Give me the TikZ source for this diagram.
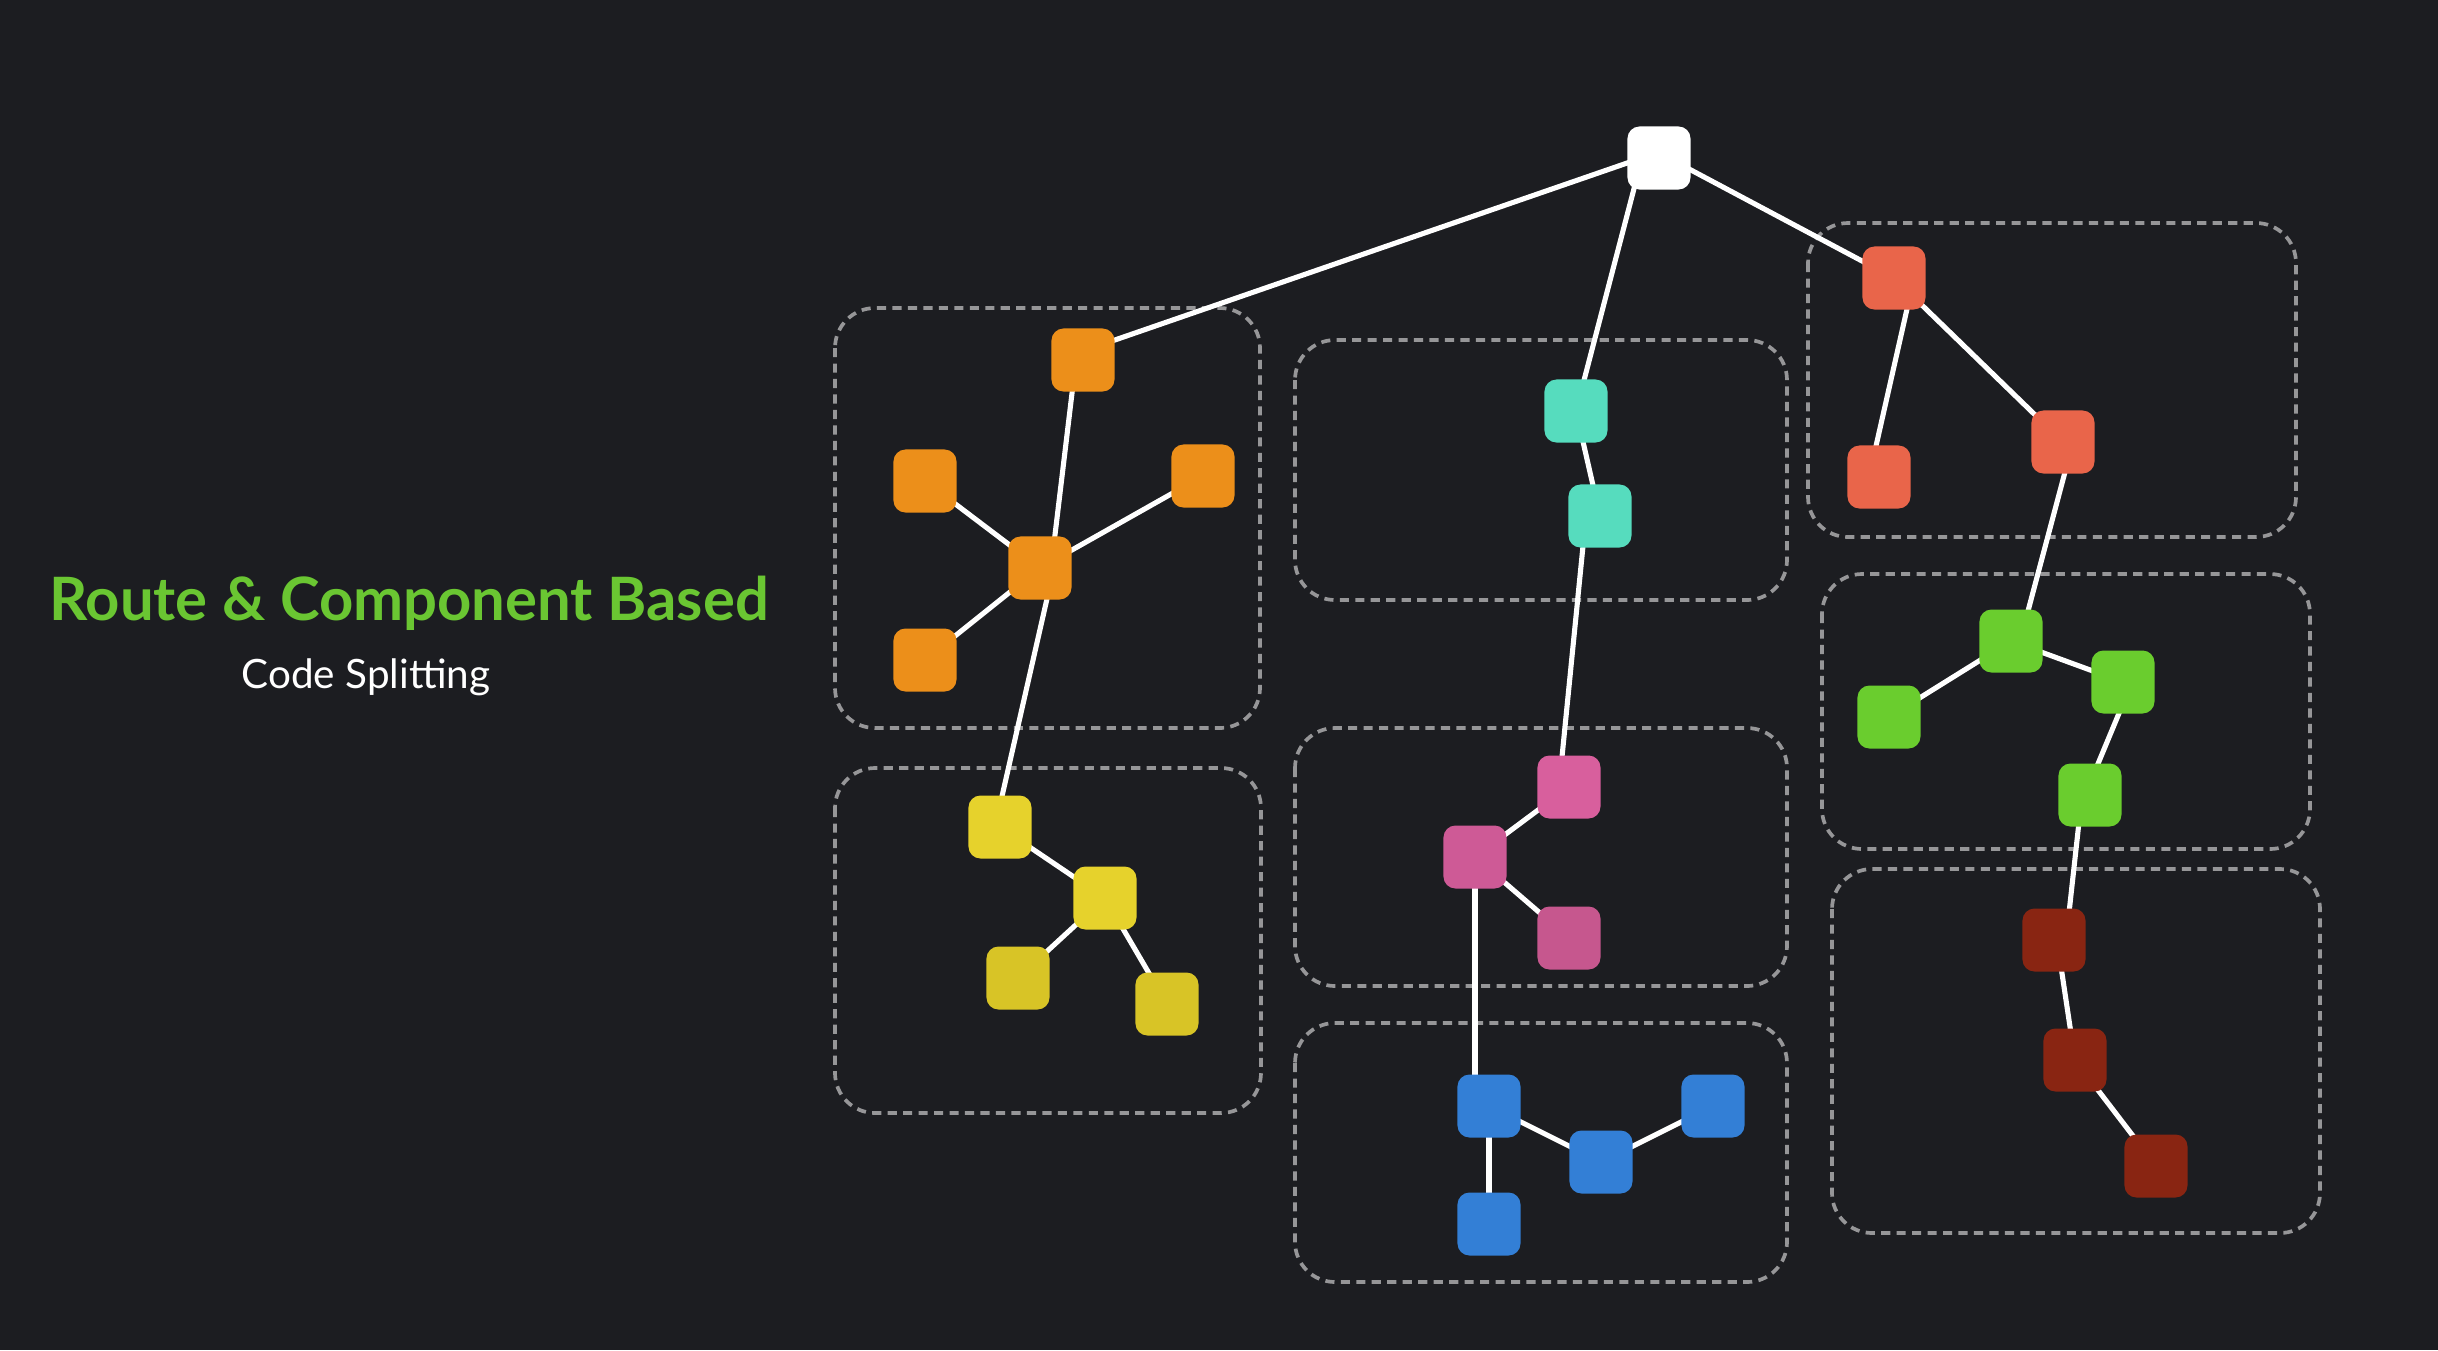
\documentclass[tikz,border=0pt]{standalone}
\usepackage{fontspec}
\setmainfont{Lato}
\usetikzlibrary{backgrounds}
\pgfdeclarelayer{canvas}
\pgfsetlayers{canvas,background,main}
\definecolor{bgc}{RGB}{28,29,33}
\definecolor{titlegreen}{RGB}{106,198,50}
\definecolor{cwhite}{RGB}{255,255,255}
\definecolor{corange}{RGB}{236,143,26}
\definecolor{cyellowA}{RGB}{230,210,44}
\definecolor{cyellowB}{RGB}{216,196,38}
\definecolor{cteal}{RGB}{86,220,190}
\definecolor{cpinkA}{RGB}{216,95,157}
\definecolor{cpinkB}{RGB}{206,90,150}
\definecolor{cpinkC}{RGB}{198,87,142}
\definecolor{cblue}{RGB}{51,127,214}
\definecolor{ccoral}{RGB}{233,101,74}
\definecolor{cgreen}{RGB}{106,205,46}
\definecolor{cdark}{RGB}{137,37,18}
\definecolor{dashgray}{RGB}{150,150,152}
\tikzset{
  mod/.style={rectangle, rounded corners=0.12cm, minimum size=0.63cm, inner sep=0pt, fill=#1},
  link/.style={draw=white, line width=1.45pt},
  group/.style={draw=dashgray, line width=1.05pt, dash pattern=on 2.6pt off 1.8pt, rounded corners=0.4cm},
}
\begin{document}
\begin{tikzpicture}[x=0.01cm, y=-0.01cm]
\begin{pgfonlayer}{canvas}
\fill[bgc] (0,0) rectangle (2438,1350);
\end{pgfonlayer}
\useasboundingbox (0,0) rectangle (2438,1350);

% title
\node[anchor=base, text=titlegreen, font=\bfseries\fontsize{17pt}{20pt}\selectfont] (title) at (409,620) {Route \& Component Based};
\node[anchor=base, text=white, font=\fontsize{11.5pt}{13pt}\selectfont] (sub) at (366,688) {Code Splitting};

% dashed groups
\begin{pgfonlayer}{canvas}
\draw[group] (835,308) rectangle (1260,728);
\draw[group] (835,768) rectangle (1261,1113);
\draw[group] (1295,340) rectangle (1787,600);
\draw[group] (1295,728) rectangle (1787,986);
\draw[group] (1295,1023) rectangle (1787,1282);
\draw[group] (1808,223) rectangle (2296,537);
\draw[group] (1822,574) rectangle (2310,849);
\draw[group] (1832,869) rectangle (2320,1233);
\end{pgfonlayer}

% nodes
\node[mod=cwhite] (root) at (1659,158) {};
\node[mod=corange] (o1) at (1083,360) {};
\node[mod=corange] (o2) at (1040,568) {};
\node[mod=corange] (o3) at (925,481) {};
\node[mod=corange] (o4) at (925,660) {};
\node[mod=corange] (o5) at (1203,476) {};
\node[mod=cyellowA] (y1) at (1000,827) {};
\node[mod=cyellowA] (y2) at (1105,898) {};
\node[mod=cyellowB] (y3) at (1018,978) {};
\node[mod=cyellowB] (y4) at (1167,1004) {};
\node[mod=cteal] (t1) at (1576,411) {};
\node[mod=cteal] (t2) at (1600,516) {};
\node[mod=cpinkA] (p1) at (1569,787) {};
\node[mod=cpinkB] (p2) at (1475,857) {};
\node[mod=cpinkC] (p3) at (1569,938) {};
\node[mod=cblue] (b1) at (1489,1106) {};
\node[mod=cblue] (b2) at (1601,1162) {};
\node[mod=cblue] (b3) at (1713,1106) {};
\node[mod=cblue] (b4) at (1489,1224) {};
\node[mod=ccoral] (r1) at (1894,278) {};
\node[mod=ccoral] (r2) at (1879,477) {};
\node[mod=ccoral] (r3) at (2063,442) {};
\node[mod=cgreen] (g1) at (2011,641) {};
\node[mod=cgreen] (g2) at (1889,717) {};
\node[mod=cgreen] (g3) at (2123,682) {};
\node[mod=cgreen] (g4) at (2090,795) {};
\node[mod=cdark] (d1) at (2054,940) {};
\node[mod=cdark] (d2) at (2075,1060) {};
\node[mod=cdark] (d3) at (2156,1166) {};

% links
\begin{pgfonlayer}{background}
\draw[link] ([yshift=0.06cm]root.center) -- ([yshift=0.09cm]o1.center);
\draw[link] ([xshift=-0.17cm]root.center) -- (t1.center);
\draw[link] ([yshift=0.05cm]root.center) -- (r1.center);
\draw[link] ([xshift=-0.07cm]o1.center) -- ([xshift=0.11cm]o2.center);
\draw[link] ([xshift=0.14cm]o2.center) -- ([xshift=-0.05cm]y1.center);
\draw[link] ([xshift=-0.14cm]t2.center) -- ([xshift=-0.10cm]p1.center);
\draw[link] (p2.center) -- (p2.center |- b1.center);
\draw[link] ([xshift=0.20cm]r1.center) -- ([xshift=-0.10cm]r2.center);
\draw[link] ([xshift=0.10cm]r3.center) -- ([xshift=0.09cm]g1.center);
\draw[link] ([xshift=0.09cm]g3.center) -- ([xshift=-0.05cm]g4.center);
\draw[link] ([xshift=-0.08cm]g4.center) -- ([xshift=0.12cm]d1.center);
\draw[link] ([xshift=0.03cm]d1.center) -- (d2.center);
\foreach \a/\b in {o2/o3, o2/o4, o2/o5,
  y1/y2, y2/y3, y2/y4,
  t1/t2, p1/p2, p2/p3,
  b1/b2, b2/b3, b1/b4,
  r1/r3, g1/g2, g1/g3, d2/d3}
  \draw[link] (\a.center) -- (\b.center);
\end{pgfonlayer}
\end{tikzpicture}
\end{document}
